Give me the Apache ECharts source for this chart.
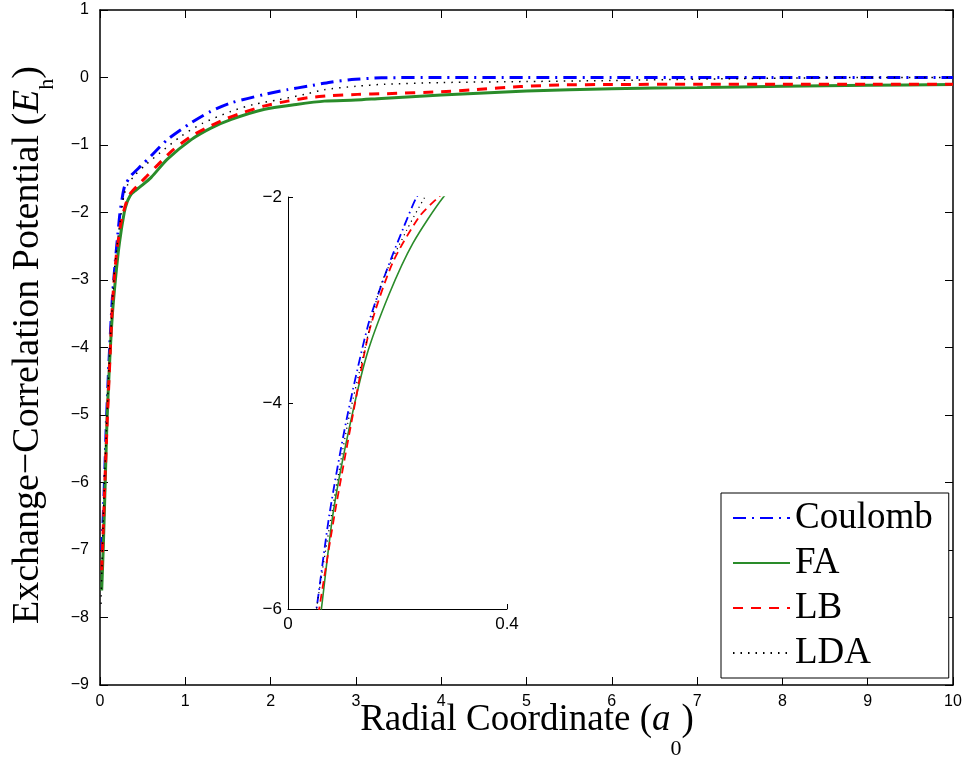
<!DOCTYPE html>
<html>
<head>
<meta charset="utf-8">
<script src="https://cdn.jsdelivr.net/npm/echarts@6/dist/echarts.min.js"></script>
<style>html,body{margin:0;padding:0;background:#fff}#c{width:967px;height:761px}</style>
</head>
<body>
<div id="c"></div>
<script>
// Radial coordinate (a0) and exchange-correlation potential (Eh)
const coulombR = [0.02,0.035,0.052,0.076,0.107,0.146,0.179,0.21,0.235,0.265,0.29,0.36,0.48,0.6,0.79,1.07,1.3,1.54,1.93,2.2,2.44,2.7,2.95,3.3,4,5,6,7,8,9,10];
const coulombV = [-7.0,-6.6,-6.0,-5.07,-4.16,-3.25,-2.73,-2.31,-2.0,-1.75,-1.61,-1.46,-1.31,-1.16,-0.92,-0.67,-0.5,-0.375,-0.25,-0.18,-0.128,-0.07,-0.03,-0.005,0,0,0,0,0,0,0];

const faR = [0.02,0.04,0.061,0.0824,0.110,0.143,0.185,0.228,0.284,0.317,0.35,0.38,0.48,0.6,0.79,1.07,1.3,1.54,1.93,2.3,2.63,3.0,3.3,4,5,6,7,8,9,10];
const faV = [-7.6,-6.9,-6.0,-5.07,-4.29,-3.55,-2.94,-2.45,-2.0,-1.85,-1.76,-1.71,-1.61,-1.48,-1.21,-0.92,-0.75,-0.62,-0.47,-0.40,-0.35,-0.335,-0.31,-0.26,-0.20,-0.165,-0.15,-0.13,-0.115,-0.104];

const lbR = [0.02,0.035,0.057,0.0855,0.119,0.149,0.191,0.24,0.275,0.30,0.325,0.36,0.48,0.55,0.68,0.85,1.07,1.26,1.46,1.7,1.93,2.2,2.44,2.7,3.02,3.35,4,4.4,4.93,5.4,6,7,8,9,10];
const lbV = [-7.3,-6.8,-6.0,-5.07,-4.10,-3.29,-2.64,-2.19,-2.0,-1.88,-1.8,-1.71,-1.55,-1.46,-1.29,-1.08,-0.87,-0.74,-0.62,-0.51,-0.42,-0.35,-0.30,-0.27,-0.25,-0.24,-0.21,-0.18,-0.135,-0.11,-0.104,-0.10,-0.10,-0.10,-0.10];

const ldaR = [0.012,0.03,0.052,0.079,0.109,0.137,0.17,0.216,0.25,0.28,0.32,0.40,0.52,0.7,0.95,1.2,1.54,1.8,2.09,2.4,2.63,3.0,3.33,4,5,6,7,8,9,10];
const ldaV = [-7.8,-6.9,-6.0,-5.1,-4.2,-3.55,-2.85,-2.33,-2.0,-1.75,-1.6,-1.46,-1.31,-1.12,-0.87,-0.68,-0.50,-0.40,-0.33,-0.25,-0.18,-0.13,-0.10,-0.075,-0.06,-0.045,-0.025,-0.01,0,0];

const seriesNames = ['Coulomb','FA','LB','LDA'];
const mainXTicks = [0,1,2,3,4,5,6,7,8,9,10];
const mainYTicks = [1,0,-1,-2,-3,-4,-5,-6,-7,-8,-9];
const insetXTicks = [0,0.4];
const insetYTicks = [-2,-4,-6];

const pairs = (r, v) => r.map((x, i) => [x, v[i]]);
const dataSets = [pairs(coulombR, coulombV), pairs(faR, faV), pairs(lbR, lbV), pairs(ldaR, ldaV)];

const colors = ['#0000ff', '#2a8c2a', '#ff0000', '#000000'];
const mainTypes = [[13,6,2,6], 'solid', [10,8], [1.5,6]];
const mainWidths = [3, 3, 3, 1.5];
const insetTypes = [[9,4,1.5,4], 'solid', [8,5], [1.2,4]];
const insetWidths = [1.8, 1.6, 1.8, 1.2];

const minus = v => String(v).replace('-', '\u2212');
const tickFont = {fontFamily: 'Liberation Sans', fontSize: 16, color: '#000'};
const insetFont = {fontFamily: 'Liberation Sans', fontSize: 17, color: '#000'};
const axLine = {show: true, onZero: false, lineStyle: {color: '#000', width: 1.5}};

const series = [];
seriesNames.forEach((n, k) => {
  series.push({
    name: n, type: 'line', xAxisIndex: 0, yAxisIndex: 0, data: dataSets[k],
    symbol: 'none', smooth: 0.25, clip: true,
    lineStyle: {color: colors[k], width: mainWidths[k], type: mainTypes[k]},
    itemStyle: {color: colors[k]}, z: 3 + k
  });
});
seriesNames.forEach((n, k) => {
  series.push({
    name: n, type: 'line', xAxisIndex: 2, yAxisIndex: 2, data: dataSets[k],
    symbol: 'none', smooth: 0.25, clip: true,
    lineStyle: {color: colors[k], width: insetWidths[k], type: insetTypes[k]},
    itemStyle: {color: colors[k]}, z: 3 + k
  });
});

const serif = 'Liberation Serif';
const option = {
  animation: false,
  backgroundColor: '#fff',
  grid: [
    {left: 100, right: 14, top: 10, bottom: 76},
    {left: 288, top: 197, width: 219, height: 412}
  ],
  xAxis: [
    {gridIndex: 0, type: 'value', min: 0, max: 10, interval: 1, position: 'bottom',
     axisLine: axLine, axisTick: {show: true, inside: true, length: 8, lineStyle: {color: '#000'}},
     axisLabel: Object.assign({margin: 9, formatter: minus}, tickFont), splitLine: {show: false}},
    {gridIndex: 0, type: 'value', min: 0, max: 10, interval: 1, position: 'top',
     axisLine: axLine, axisTick: {show: true, inside: true, length: 8, lineStyle: {color: '#000'}},
     axisLabel: {show: false}, splitLine: {show: false}},
    {gridIndex: 1, type: 'value', min: 0, max: 0.4, interval: 0.4, position: 'bottom',
     axisLine: {show: true, onZero: false, lineStyle: {color: '#000', width: 1}},
     axisTick: {show: true, inside: true, length: 5, lineStyle: {color: '#000'}},
     axisLabel: Object.assign({margin: 7, formatter: v => insetXTicks.includes(v) ? minus(v) : ''}, insetFont),
     splitLine: {show: false}}
  ],
  yAxis: [
    {gridIndex: 0, type: 'value', min: -9, max: 1, interval: 1, position: 'left',
     axisLine: axLine, axisTick: {show: true, inside: true, length: 8, lineStyle: {color: '#000'}},
     axisLabel: Object.assign({margin: 11, formatter: v => mainYTicks.includes(v) ? minus(v) : ''}, tickFont),
     splitLine: {show: false}},
    {gridIndex: 0, type: 'value', min: -9, max: 1, interval: 1, position: 'right',
     axisLine: axLine, axisTick: {show: true, inside: true, length: 8, lineStyle: {color: '#000'}},
     axisLabel: {show: false}, splitLine: {show: false}},
    {gridIndex: 1, type: 'value', min: -6, max: -2, interval: 2, position: 'left',
     axisLine: {show: true, onZero: false, lineStyle: {color: '#000', width: 1}},
     axisTick: {show: true, inside: true, length: 5, lineStyle: {color: '#000'}},
     axisLabel: Object.assign({margin: 6, formatter: v => insetYTicks.includes(v) ? minus(v) : ''}, insetFont),
     splitLine: {show: false}}
  ],
  legend: {
    data: seriesNames, orient: 'vertical', left: 721, top: 493,
    padding: [5, 16, 5, 11], itemGap: 5, itemWidth: 57, itemHeight: 3,
    itemStyle: {opacity: 0},
    backgroundColor: '#fff', borderColor: '#000', borderWidth: 1, borderRadius: 0,
    textStyle: {fontFamily: serif, fontSize: 37, lineHeight: 40, color: '#000'},
    selectedMode: false
  },
  graphic: [
    {type: 'text', x: 527, y: 720, silent: true,
     style: {text: '{n|Radial Coordinate (}{i|a}{s|0}{n|)}', align: 'center', verticalAlign: 'middle',
       rich: {
         n: {fontFamily: serif, fontSize: 37, lineHeight: 80, fill: '#000'},
         i: {fontFamily: serif, fontSize: 37, lineHeight: 80, fontStyle: 'italic', fill: '#000'},
         s: {fontFamily: serif, fontSize: 22, lineHeight: 24, verticalAlign: 'bottom', fill: '#000'}
       }}},
    {type: 'text', x: 28, y: 345, rotation: Math.PI / 2, silent: true,
     style: {text: '{n|Exchange\u2212Correlation Potential (}{i|E}{s|h}{n|)}', align: 'center', verticalAlign: 'middle',
       rich: {
         n: {fontFamily: serif, fontSize: 38, lineHeight: 60, fill: '#000'},
         i: {fontFamily: serif, fontSize: 38, lineHeight: 60, fontStyle: 'italic', fill: '#000'},
         s: {fontFamily: serif, fontSize: 22, lineHeight: 24, verticalAlign: 'bottom', fill: '#000'}
       }}}
  ],
  series: series
};
const chart = echarts.init(document.getElementById('c'), null, {renderer: 'canvas'});
chart.setOption(option);
</script>
</body>
</html>
